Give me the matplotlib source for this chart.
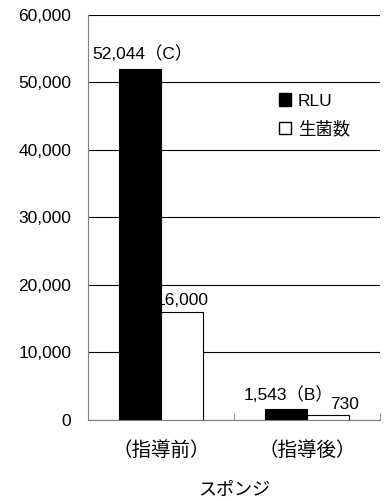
import numpy as np
import matplotlib.pyplot as plt
from matplotlib.patches import Patch

plt.rcParams['font.family'] = ['Liberation Sans', 'Noto Sans CJK JP', 'DejaVu Sans']

# データ
categories = ['（指導前）', '（指導後）']
rlu = [52044, 1543]
seikin = [16000, 730]
rlu_labels = ['52,044（C）', '1,543（B）']
seikin_labels = ['16,000', '730']

fig = plt.figure(figsize=(3.86, 5.01), dpi=100)
ax = fig.add_axes([0.228, 0.162, 0.756, 0.808])

x = np.arange(len(categories))
w = 0.29
ax.bar(x - w / 2, rlu, w, color='black', edgecolor='black', linewidth=0.8, zorder=3)
ax.bar(x + w / 2, seikin, w, color='white', edgecolor='black', linewidth=0.8, zorder=3)

fs = 12.5
# 値ラベル
for i in range(len(categories)):
    ax.text(x[i] - w / 2 + 0.02, rlu[i] + 1000, rlu_labels[i], ha='center', va='bottom', fontsize=fs)
ax.text(x[0] + w / 2, seikin[0] + 600, seikin_labels[0], ha='center', va='bottom', fontsize=fs)
ax.text(x[1] + w / 2 + 0.11, seikin[1] + 500, seikin_labels[1], ha='center', va='bottom', fontsize=fs)

ax.set_xlim(-0.5, 1.5)
ax.set_ylim(0, 60000)
ax.set_yticks(np.arange(0, 60001, 10000))
ax.set_yticklabels(['{:,}'.format(v) for v in range(0, 60001, 10000)], fontsize=fs)
ax.set_xticks(x)
ax.set_xticklabels(categories, fontsize=14)
ax.tick_params(axis='x', length=0, pad=15)
ax.tick_params(axis='y', length=0, pad=12)

# 区切りの目盛り
ax.set_xticks([-0.5, 0.5, 1.5], minor=True)
ax.tick_params(axis='x', which='minor', direction='in', length=5, color='#808080')

ax.yaxis.grid(True, color='black', linewidth=0.8, zorder=0)
ax.spines['top'].set_visible(False)
ax.spines['right'].set_visible(False)
ax.spines['left'].set_color('#808080')
ax.spines['bottom'].set_color('#808080')

ax.set_xlabel('スポンジ', fontsize=13, labelpad=16)

handles = [Patch(facecolor='black', edgecolor='black', label='RLU'),
           Patch(facecolor='white', edgecolor='black', label='生菌数')]
ax.legend(handles=handles, loc='upper left', bbox_to_anchor=(0.6, 0.845), frameon=False,
          fontsize=fs, handlelength=0.7, handleheight=0.7, handletextpad=0.4, labelspacing=0.7)

fig.savefig('out.png', dpi=100)
